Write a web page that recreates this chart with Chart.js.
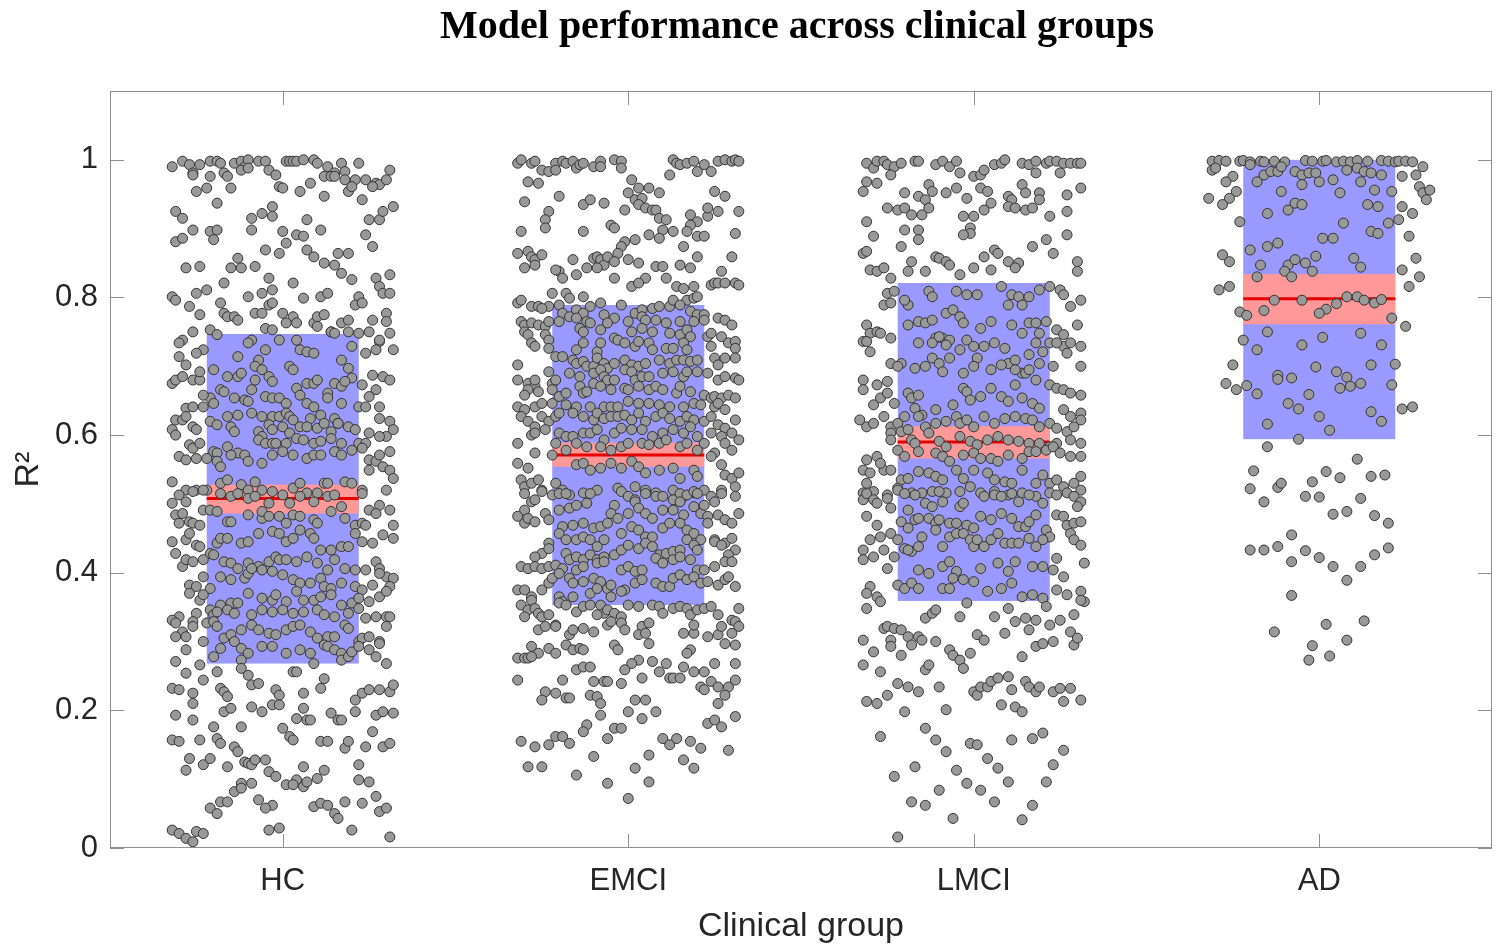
<!DOCTYPE html>
<html>
<head>
<meta charset="utf-8">
<title>Model performance across clinical groups</title>
<script src="https://cdn.jsdelivr.net/npm/chart.js@4.4.1/dist/chart.umd.min.js"></script>
<style>
  html, body { margin: 0; padding: 0; background: #fff; }
  #wrap { width: 1500px; height: 950px; }
</style>
</head>
<body>
<div id="wrap"><canvas id="groupChart" width="1500" height="950"></canvas></div>
<script>
const groups = ["HC", "EMCI", "LMCI", "AD"];
const yTicks = [0, 0.2, 0.4, 0.6, 0.8, 1];

// box = 1 SD band, sem = red band, mean = red line
const boxLow = [0.268, 0.353, 0.359, 0.594];
const boxHigh = [0.747, 0.789, 0.821, 1.0];
const semLow = [0.486, 0.554, 0.566, 0.761];
const semHigh = [0.528, 0.589, 0.613, 0.834];
const meanR2 = [0.508, 0.571, 0.590, 0.798];

// each point: [jitter from group centre, R2]
const hcPoints = [
[-.32,.990],[-.29,.998],[-.27,.993],[-.26,.981],[-.24,.993],[-.21,.998],[-.19,.998],[-.18,.995],[-.14,.995],[-.12,.998],[-.11,.990],[-.10,1.0],[-.07,.998],[-.05,.998],[.01,.998],[.02,.998],[.03,.998],[.04,.998],[.06,1.0],[.09,1.0],[.10,.995],[.13,.990],[.15,.981],[.17,.995],[.18,.983],[.22,.995],
[-.26,.978],[-.21,.976],[-.17,.981],[-.16,.976],[-.12,.985],[-.10,.988],[-.04,.985],[-.02,.978],[.12,.976],[.14,.976],[.15,.976],[.18,.971],[.21,.971],[.24,.971],[.27,.966],[.28,.964],[.30,.971],[.31,.985],[-.25,.954],[-.22,.959],[-.15,.959],[-.01,.961],[.00,.959],[.05,.954],[.08,.966],[.12,.947],[.19,.954],[.20,.961],[.23,.942],[.26,.961],
[-.19,.937],[-.31,.925],[-.29,.915],[-.09,.915],[-.06,.922],[-.03,.918],[-.03,.932],[.07,.913],[.25,.913],[.28,.913],[.29,.925],[.32,.932],[-.26,.898],[-.21,.896],[-.19,.898],[-.20,.884],[-.31,.881],[-.29,.886],[-.09,.898],[.00,.896],[.01,.879],[.04,.891],[.06,.889],[.11,.898],[.24,.891],[.26,.874],
[-.05,.869],[-.01,.864],[.07,.869],[.09,.859],[.12,.850],[.15,.847],[.16,.864],[.19,.864],[.17,.835],[.20,.826],[-.13,.857],[-.15,.843],[-.12,.843],[-.08,.845],[-.28,.843],[-.24,.845],[-.04,.828],[.03,.821],[.27,.828],[.31,.833],[.28,.816],[.29,.806],[.31,.806],
[-.17,.821],[-.18,.792],[-.25,.806],[-.22,.811],[-.32,.801],[-.31,.796],[-.06,.806],[-.03,.811],[-.04,.789],[-.10,.801],[.06,.799],[.11,.801],[.13,.806],[.22,.801],[.21,.789],[.23,.792],[-.27,.787],[-.24,.775],[-.17,.777],[-.16,.772],[-.14,.772],[-.13,.767],[-.08,.777],[-.06,.777],[-.03,.792],[.00,.777],[.03,.772],[.01,.763],[.04,.763],[.09,.763],[.10,.772],[.12,.775],[.14,.750],[.17,.763],[.19,.767],[.26,.767],[.30,.777],[.30,.765],
[-.26,.750],[-.21,.753],[-.19,.746],[-.05,.755],[-.03,.753],[-.01,.738],[.04,.738],[.10,.758],[.14,.750],[.15,.748],[.19,.750],[.22,.748],[.25,.750],[.28,.736],[.31,.748],[-.29,.738],[-.30,.734],[-.23,.724],[-.09,.738],[-.10,.734],[-.05,.724],[.05,.724],[.07,.721],[.09,.719],[.17,.709],[.20,.729],[.28,.738],[.24,.719],[.27,.724],[.32,.724],
[-.30,.714],[-.25,.719],[-.28,.702],[-.32,.675],[-.31,.680],[-.29,.685],[-.26,.680],[-.24,.680],[-.24,.692],[-.20,.695],[-.13,.714],[-.07,.709],[-.08,.700],[-.06,.695],[.02,.700],[.03,.695],[.19,.697],[.20,.683],[.15,.675],[.17,.671],[.18,.678],[.23,.673],[.26,.687],[.29,.685],[.31,.680],[-.16,.685],[-.13,.685],[-.12,.690],[-.09,.666],[-.08,.680],[-.04,.685],[-.03,.678],[.07,.675],[.09,.675],[.10,.680],
[-.18,.666],[-.17,.663],[-.21,.654],[-.23,.658],[-.20,.646],[-.14,.654],[-.11,.651],[-.10,.649],[-.05,.656],[-.03,.654],[-.01,.654],[.01,.646],[.04,.668],[.05,.658],[.07,.646],[.09,.641],[.13,.661],[.13,.654],[.17,.646],[.22,.641],[.24,.641],[.27,.666],[.25,.656],[.28,.641],[-.28,.639],[-.26,.641],[-.23,.641],[-.31,.622],[-.29,.622],[-.28,.627],[-.16,.627],[-.13,.629],[-.09,.632],[-.06,.627],[-.03,.627],[-.01,.627],[.01,.632],[.02,.627],[.03,.622],[.05,.612],[.08,.624],[.11,.629],[.15,.624],[.16,.617],
[-.32,.608],[-.31,.600],[-.26,.612],[-.25,.608],[-.21,.620],[-.19,.615],[-.15,.612],[-.14,.605],[-.07,.605],[-.06,.598],[-.04,.615],[-.03,.608],[.00,.612],[.02,.603],[.07,.612],[.10,.610],[.12,.617],[.14,.605],[.16,.617],[.19,.612],[.21,.608],[.28,.624],[.31,.620],[.32,.608],[.30,.598],[.28,.598],[.25,.603],[.22,.588],[.24,.588],[-.27,.586],[-.26,.581],[-.24,.588],[-.20,.576],[-.19,.574],[-.16,.583],[-.13,.574],[-.11,.571],[-.07,.593],[-.05,.588],[-.03,.588],[-.02,.588],[.01,.588],[.04,.595],[.06,.593],[.09,.588],[.11,.591],[.14,.595],[.17,.588],
[-.30,.569],[-.28,.564],[-.25,.566],[-.22,.566],[-.19,.562],[-.18,.554],[-.15,.571],[-.10,.562],[-.06,.559],[-.03,.571],[.00,.576],[.03,.571],[.07,.566],[.09,.571],[.11,.571],[.15,.576],[.17,.571],[.20,.578],[.23,.581],[.25,.564],[.27,.562],[.28,.571],[.31,.576],[-.32,.532],[-.28,.520],[-.25,.520],[-.22,.520],[-.18,.530],[-.16,.535],[-.12,.528],[-.10,.520],[-.08,.532],[-.06,.520],[-.03,.518],[.03,.523],[.05,.530],[.07,.516],[.10,.516],[.12,.530],[.13,.530],[.18,.532],[.20,.530],[.23,.520],[.25,.549],[.29,.554],[.31,.549],[.32,.537],
[-.32,.501],[-.30,.513],[-.28,.503],[-.26,.518],[-.23,.520],[-.18,.515],[-.15,.511],[-.13,.515],[-.10,.508],[-.08,.511],[-.04,.501],[.00,.513],[.02,.501],[.05,.511],[.09,.503],[.13,.511],[.15,.513],[.17,.496],[.23,.515],[.30,.520],
[-.31,.484],[-.29,.486],[-.30,.472],[-.27,.474],[-.26,.472],[-.24,.469],[-.23,.491],[-.21,.491],[-.19,.489],[-.16,.474],[-.15,.474],[-.10,.484],[-.06,.479],[-.06,.489],[-.04,.482],[-.01,.482],[.01,.472],[.03,.484],[.05,.482],[.09,.477],[.10,.472],[.14,.489],[.18,.479],[.21,.469],[.23,.472],[.25,.491],[.28,.498],[.27,.486],[.31,.491],[.32,.469],
[-.32,.445],[-.31,.428],[-.28,.448],[-.27,.457],[-.25,.440],[-.24,.438],[-.21,.428],[-.19,.443],[-.18,.450],[-.16,.450],[-.12,.443],[-.10,.445],[-.07,.457],[-.03,.460],[-.01,.457],[.01,.445],[.03,.450],[.05,.462],[.08,.457],[.09,.450],[.11,.433],[.14,.433],[.17,.438],[.19,.438],[.21,.457],[.23,.445],[.24,.469],[.26,.443],[.29,.455],[.32,.450],
[-.29,.409],[-.28,.419],[-.26,.416],[-.23,.419],[-.20,.426],[-.17,.416],[-.15,.414],[-.13,.406],[-.10,.414],[-.07,.409],[-.04,.416],[-.02,.423],[-.01,.419],[.01,.419],[.04,.416],[.07,.423],[.10,.414],[.13,.404],[.15,.419],[.18,.406],[.21,.404],[.24,.404],[.27,.416],[.28,.406],[.30,.394],[.32,.392],[-.27,.382],[-.25,.380],[-.23,.394],[-.21,.377],[-.18,.394],[-.15,.390],[-.11,.392],[-.10,.399],[-.09,.406],[-.06,.404],[-.03,.402],[.00,.397],[.03,.390],[.05,.385],[.08,.385],[.11,.392],[.12,.380],[.14,.377],[.17,.385],[.21,.380],[.23,.375],[.26,.382],[.28,.399],[.31,.380],
[-.27,.370],[-.24,.360],[-.23,.368],[-.18,.353],[-.15,.356],[-.13,.356],[-.10,.370],[-.06,.363],[-.03,.360],[-.02,.368],[.01,.358],[.04,.373],[.06,.360],[.09,.360],[.11,.365],[.14,.368],[.17,.353],[.20,.356],[.22,.363],[.25,.358],[.28,.365],[.30,.373],[-.25,.341],[-.30,.336],[-.26,.329],[-.21,.346],[-.20,.339],[-.19,.343],[-.16,.346],[-.14,.341],[-.09,.339],[-.06,.346],[-.03,.343],[.00,.346],[.03,.341],[.06,.343],[.10,.346],[.12,.339],[.15,.336],[.19,.341],[.22,.348],[.24,.334],[.27,.336],[.30,.336],
[-.32,.331],[-.31,.327],[-.29,.314],[-.31,.307],[-.28,.307],[-.26,.322],[-.22,.327],[-.20,.329],[-.19,.322],[-.17,.305],[-.15,.310],[-.12,.317],[-.09,.324],[-.07,.317],[-.04,.312],[-.02,.310],[.01,.317],[.03,.322],[.05,.324],[.08,.314],[.10,.305],[.13,.307],[.15,.307],[.18,.324],[.19,.319],[.22,.300],[.23,.305],[.25,.307],[.28,.300],[.28,.297],[.30,.322],[.31,.336],
[-.31,.271],[-.28,.288],[-.23,.300],[-.20,.278],[-.18,.290],[-.14,.300],[-.12,.290],[-.10,.283],[-.06,.293],[-.03,.293],[.01,.283],[.05,.288],[.08,.283],[.12,.295],[.13,.293],[.15,.288],[.17,.283],[.17,.273],[.19,.278],[.20,.285],[.22,.293],[.25,.288],[.27,.278],[.30,.268],
[-.24,.266],[-.28,.254],[-.23,.244],[-.19,.256],[-.12,.273],[-.12,.261],[-.10,.251],[-.09,.237],[-.07,.239],[-.02,.230],[-.01,.222],[.03,.256],[.04,.256],[.06,.225],[.09,.268],[.11,.232],[.12,.246],[-.32,.232],[-.30,.230],[-.26,.225],[-.18,.232],[-.17,.227],[-.16,.220],[.21,.215],[.23,.225],[.25,.230],[.28,.230],[.31,.227],[.32,.237],
[-.26,.210],[-.09,.205],[-.06,.198],[-.03,.208],[-.01,.208],[.06,.203],[.04,.188],[.07,.186],[.08,.186],[.14,.196],[.16,.186],[.17,.186],[.21,.198],[.27,.193],[.29,.198],[.32,.196],[-.31,.193],[-.26,.186],[-.17,.198],[-.15,.203],[-.20,.176],[-.12,.176],
[-.32,.157],[-.30,.155],[-.24,.157],[-.19,.159],[-.18,.152],[-.14,.147],[-.13,.140],[-.11,.125],[.00,.174],[.02,.162],[.03,.157],[.11,.155],[.13,.155],[.18,.145],[.19,.155],[.24,.147],[.26,.169],[.29,.147],[.31,.152],[-.27,.130],[-.23,.121],[-.21,.130],[-.16,.118],[-.10,.123],[-.09,.121],[-.08,.128],[-.05,.128],[.06,.118],[.12,.113],[.22,.121],
[-.28,.113],[-.04,.111],[-.02,.104],[.04,.099],[.01,.092],[.03,.092],[.06,.089],[.07,.096],[.10,.101],[-.12,.094],[-.09,.094],[-.14,.082],[-.12,.087],[.25,.096],[.22,.099],[-.18,.067],[-.16,.067],[-.07,.070],[-.03,.062],[.09,.060],[.11,.065],[.13,.062],[.15,.050],[.16,.043],[.18,.067],[.23,.065],[.27,.075],[.28,.053],[.30,.058],[-.21,.058],[-.19,.050],[-.05,.058],
[-.32,.026],[-.30,.021],[-.28,.014],[-.26,.009],[-.25,.024],[-.23,.021],[-.04,.026],[-.01,.029],[.20,.026],[.31,.016]
];

const emciPoints = [
[-.32,.995],[-.31,1.0],[-.28,.995],[-.27,.998],[-.25,.985],[-.23,.983],[-.21,.995],[-.21,.985],[-.19,.998],[-.18,.995],[-.16,.998],[-.15,.988],[-.14,.993],[-.13,.995],[-.10,.990],[-.08,.998],[-.08,.990],[-.04,1.0],[-.02,.998],[-.02,.988],[.13,1.0],[.14,.995],[.15,.993],[.17,.995],[.19,.998],[.20,.983],[.22,.993],[.24,.983],[.26,.998],[.28,1.0],[.30,.998],[.31,1.0],[.32,.998],[.12,.978],
[-.29,.968],[-.26,.966],[-.20,.947],[-.13,.935],[-.11,.942],[-.07,.937],[.01,.971],[.00,.952],[.03,.959],[.06,.959],[.09,.952],[.02,.942],[.04,.944],[.03,.935],[.05,.930],[.07,.927],[.08,.927],[.25,.954],[.28,.947],[-.30,.939],[-.23,.925],[-.24,.913],[-.24,.901],[-.31,.896],[-.13,.896],[-.05,.905],[-.04,.901],[-.01,.927],[.09,.915],[.11,.913],[.10,.898],[.13,.896],[.06,.891],[.09,.886],[.18,.920],[.20,.910],[.23,.918],[.23,.930],[.26,.925],[.32,.925],[.18,.905],[.17,.896],[.20,.889],[.22,.889],[.31,.893],
[-.01,.881],[.02,.884],[-.02,.874],[-.03,.864],[.16,.874],[.20,.859],[.30,.859],[-.32,.864],[-.29,.867],[-.28,.859],[-.27,.855],[-.25,.862],[-.27,.847],[-.30,.843],[-.16,.855],[-.10,.857],[-.09,.859],[-.08,.855],[-.07,.847],[-.06,.859],[-.04,.852],[.00,.855],[.03,.850],[-.09,.843],[-.12,.843],[-.15,.833],[-.20,.838],[-.21,.840],[-.19,.828],[-.04,.828],[.08,.845],[.10,.845],[.15,.847],[.18,.843],[.11,.828],[.05,.828],[.01,.816],[.03,.821],[.14,.816],[.16,.813],[.19,.816],[.24,.818],[.25,.821],[.26,.821],[.28,.821],[.31,.821],[.32,.818],[.27,.838],
[-.32,.792],[-.31,.796],[-.22,.806],[-.18,.806],[-.17,.799],[-.13,.801],[-.23,.787],[-.28,.787],[-.26,.787],[-.25,.784],[-.20,.789],[-.19,.777],[-.15,.782],[-.13,.777],[-.11,.787],[-.08,.792],[-.02,.789],[.02,.777],[.04,.782],[.07,.784],[.09,.787],[.12,.787],[.13,.796],[.17,.796],[.15,.789],[.19,.799],[.20,.801],[.18,.780],[.20,.775],[.22,.775],[.19,.765],[.22,.767],[-.31,.765],[-.30,.760],[-.28,.763],[-.26,.760],[-.24,.758],[-.23,.765],[-.20,.765],[-.17,.772],[-.15,.770],[-.12,.765],[-.11,.763],[-.07,.775],[-.04,.770],[.00,.765],[.04,.772],[.05,.767],[.08,.767],[.11,.763],[.15,.765],[.26,.770],[.28,.767],[.30,.760],
[-.30,.750],[-.29,.746],[-.28,.734],[-.24,.746],[-.23,.738],[-.27,.729],[-.14,.755],[-.13,.750],[-.08,.753],[-.06,.763],[-.04,.741],[.01,.750],[.07,.750],[.04,.755],[.12,.748],[.15,.746],[.17,.753],[.18,.743],[.23,.743],[.24,.748],[.27,.743],[.29,.734],[.31,.736],[.31,.726],[-.23,.726],[-.21,.714],[-.15,.724],[-.13,.734],[-.09,.721],[-.08,.734],[-.03,.738],[-.01,.734],[.02,.729],[.03,.736],[.06,.734],[.07,.724],[.11,.726],[.13,.726],[.16,.734],[.17,.724],[.24,.729],[.25,.712],[.26,.702],[.28,.712],[.31,.712],[-.32,.702],[-.19,.714],[-.16,.709],[-.15,.704],[-.13,.707],[-.12,.700],[-.10,.700],[-.09,.712],[-.07,.704],[-.06,.697],[-.04,.704],[-.01,.709],[.01,.702],[.03,.700],[.05,.704],[.09,.709],[.12,.704],[.14,.709],[.16,.709],[.18,.707],[.20,.709],
[-.32,.680],[-.29,.675],[-.27,.671],[-.26,.663],[-.29,.666],[-.30,.658],[-.27,.680],[-.23,.692],[-.22,.675],[-.21,.680],[-.17,.690],[-.14,.685],[-.10,.690],[-.08,.695],[-.07,.685],[-.06,.680],[-.04,.680],[-.01,.695],[.01,.692],[.02,.680],[.04,.685],[.06,.685],[.10,.690],[.13,.692],[.16,.685],[.17,.692],[.20,.692],[.23,.690],[.26,.680],[.28,.685],[.31,.683],[.32,.680],[-.22,.666],[-.20,.656],[-.18,.661],[-.14,.671],[-.13,.661],[-.12,.663],[-.10,.675],[-.08,.671],[-.05,.666],[-.01,.668],[.00,.666],[.03,.671],[.06,.666],[.08,.671],[.10,.666],[.14,.661],[.15,.671],[.18,.663],[.22,.658],[.24,.654],[.25,.656],[.27,.654],[.29,.658],[.31,.654],[-.32,.641],[-.30,.637],[-.27,.641],[-.25,.646],[-.22,.646],[-.18,.644],[-.15,.641],[-.11,.641],[-.07,.641],[-.05,.641],[-.03,.641],[.00,.649],[.03,.646],[.06,.646],[.09,.644],[.12,.641],[.16,.641],[.19,.646],[.21,.644],[.25,.641],[.26,.646],[.28,.637],
[-.31,.627],[-.29,.620],[-.27,.612],[-.25,.627],[-.23,.620],[-.21,.627],[-.20,.632],[-.16,.632],[-.13,.627],[-.10,.622],[-.09,.632],[-.07,.624],[-.05,.627],[-.03,.627],[-.01,.629],[.01,.622],[.03,.632],[.05,.620],[.08,.627],[.10,.632],[.12,.624],[.15,.620],[.17,.627],[.19,.622],[.22,.620],[.24,.627],[.26,.615],[.28,.610],[.31,.622],[-.32,.588],[-.28,.600],[-.27,.603],[-.24,.608],[-.20,.603],[-.18,.598],[-.16,.598],[-.13,.603],[-.11,.603],[-.09,.608],[-.07,.593],[-.04,.603],[-.02,.610],[.01,.608],[.04,.608],[.07,.598],[.10,.603],[.13,.608],[.16,.603],[.18,.612],[.20,.598],[.24,.603],[.27,.598],[.30,.603],[.32,.593],
[-.27,.574],[-.22,.571],[-.21,.588],[-.18,.578],[-.15,.588],[-.12,.583],[-.08,.583],[-.05,.578],[-.02,.583],[.00,.588],[.04,.588],[.06,.586],[.09,.588],[.11,.593],[.15,.583],[.17,.588],[.20,.578],[.22,.588],[.25,.574],[.28,.588],[.30,.578],[-.32,.559],[-.29,.552],[-.31,.535],[-.30,.525],[-.28,.530],[-.26,.535],[-.25,.520],[-.21,.530],[-.19,.520],[-.15,.557],[-.13,.559],[-.11,.549],[-.08,.552],[-.05,.559],[-.02,.552],[.01,.562],[.03,.554],[.05,.545],[.09,.549],[.13,.552],[.15,.537],[.19,.549],[.20,.540],[.24,.569],[.27,.557],[.28,.542],[.30,.537],[.32,.545],[-.22,.513],[-.17,.513],[-.13,.516],[-.09,.520],[-.03,.523],[.02,.525],[.05,.520],[.08,.516],[.13,.520],[.16,.511],[.19,.516],[.22,.520],[.27,.520],[.31,.525],
[-.30,.515],[-.28,.503],[-.27,.506],[-.25,.518],[-.20,.515],[-.18,.515],[-.11,.515],[-.02,.518],[.00,.511],[.02,.506],[.05,.515],[.08,.511],[.10,.511],[.13,.506],[.15,.515],[.17,.513],[.19,.518],[.20,.515],[.24,.511],[.27,.515],[.31,.511],
[-.30,.491],[-.32,.482],[-.30,.472],[-.29,.479],[-.27,.474],[-.24,.486],[-.20,.491],[-.17,.494],[-.15,.498],[-.12,.501],[-.04,.498],[-.05,.486],[-.03,.479],[.00,.486],[.02,.503],[.03,.494],[.05,.486],[.07,.479],[.10,.491],[.13,.491],[.15,.503],[.16,.484],[.19,.496],[.21,.486],[.22,.498],[.25,.503],[.23,.482],[.26,.484],[.28,.477],[.30,.472],[.32,.486],
[-.23,.477],[-.19,.467],[-.16,.469],[-.13,.472],[-.10,.465],[-.08,.467],[-.06,.472],[-.02,.457],[.01,.467],[.03,.462],[.05,.452],[.07,.452],[.10,.465],[.12,.472],[.15,.472],[.17,.462],[.19,.457],[.21,.448],[.23,.472],[.25,.448],[.28,.443],[.30,.450],[.31,.433],[-.20,.457],[-.18,.448],[-.15,.448],[-.13,.452],[-.11,.448],[-.09,.438],[-.07,.448],[-.23,.443],[-.25,.428],[-.27,.423],[-.23,.435],[-.18,.428],[-.17,.419],[-.15,.423],[-.13,.419],[-.11,.426],[-.09,.419],[-.07,.423],[-.04,.426],[-.02,.433],[.00,.440],[.03,.435],[.05,.443],[.07,.438],[.09,.426],[.11,.428],[.13,.431],[.15,.433],[.17,.448],[.19,.440],[.20,.433],[.25,.445],[.27,.440],[.29,.426],
[-.31,.409],[-.29,.406],[-.27,.409],[-.25,.406],[-.23,.409],[-.21,.411],[-.19,.406],[-.15,.404],[-.13,.409],[-.09,.414],[-.07,.416],[-.02,.404],[.00,.409],[.02,.402],[.04,.404],[.08,.421],[.10,.414],[.13,.419],[.15,.423],[.18,.419],[.20,.404],[.22,.404],[.25,.409],[.28,.416],[.30,.416],[-.32,.375],[-.30,.375],[-.28,.365],[-.25,.375],[-.23,.385],[-.22,.392],[-.20,.399],[-.17,.392],[-.16,.385],[-.13,.387],[-.10,.392],[-.08,.387],[-.06,.377],[-.05,.382],[-.01,.375],[.02,.385],[.04,.390],[.08,.385],[.10,.380],[.12,.380],[.13,.392],[.15,.397],[.17,.390],[.19,.394],[.21,.385],[.23,.387],[.26,.382],[.28,.390],[.29,.394],[.31,.380],[-.28,.360],[-.20,.365],[-.19,.358],[-.16,.365],[-.11,.370],[-.09,.377],[-.05,.365],[-.02,.373],
[-.31,.353],[-.29,.346],[-.27,.348],[-.26,.341],[-.25,.336],[-.23,.339],[-.21,.324],[-.20,.356],[-.18,.353],[-.15,.343],[-.13,.351],[-.11,.353],[-.08,.353],[-.07,.341],[-.09,.339],[-.06,.346],[-.04,.341],[-.02,.336],[.00,.353],[.03,.351],[.07,.353],[.09,.351],[.10,.341],[.13,.348],[.15,.351],[.17,.348],[.18,.339],[.20,.346],[.22,.348],[.24,.351],[.26,.339],[.30,.331],[.32,.348],[-.30,.336],
[-.26,.317],[-.24,.322],[-.21,.322],[-.17,.310],[-.16,.317],[-.13,.319],[-.10,.314],[-.06,.324],[-.05,.329],[-.02,.327],[-.01,.317],[.04,.322],[.06,.327],[.03,.310],[.05,.312],[.06,.297],[.16,.312],[.19,.312],[.19,.324],[.23,.307],[.26,.310],[.28,.297],[.27,.322],[.31,.329],[.32,.322],[-.28,.293],[-.26,.283],[-.23,.290],[-.21,.283],[-.18,.295],[-.16,.288],[-.14,.290],[-.13,.288],[-.04,.295],[-.03,.288],[.18,.288],[.17,.283],[.30,.312],[.31,.295],
[-.32,.276],[-.30,.276],[-.29,.276],[-.28,.278],[.03,.273],[.01,.268],[-.01,.259],[-.02,.239],[.07,.271],[.11,.268],[.09,.256],[.12,.247],[.13,.247],[.15,.247],[.16,.263],[.19,.256],[.22,.256],[.25,.268],[.31,.268],[-.15,.259],[-.13,.263],[-.11,.263],[-.32,.244],[-.19,.244],[-.10,.242],[-.07,.242],[-.06,.242],[.04,.247],[.21,.234],[.22,.230],[.24,.242],[.26,.234],[.29,.234],[.31,.244],[.28,.222],
[-.24,.227],[-.21,.225],[-.25,.215],[-.18,.218],[-.17,.218],[-.11,.222],[-.09,.220],[-.08,.210],[.02,.215],[.05,.215],[.26,.210],[-.08,.193],[.00,.198],[.04,.188],[.08,.198],[.23,.181],[.25,.186],[.27,.176],[.31,.191],[-.12,.179],[-.13,.169],[-.04,.174],[-.02,.174],[-.06,.159],[-.21,.162],[-.19,.162],[-.17,.152],[-.31,.155],[-.27,.147],[-.23,.150],[.10,.159],[.12,.150],[.14,.159],[.18,.155],[.21,.145],[.29,.142],
[-.10,.133],[.06,.135],[.16,.128],[-.29,.118],[-.25,.118],[-.15,.106],[.02,.116],[.19,.116],[-.06,.094],[.06,.096],[.00,.072]
];

const lmciPoints = [
[-.31,.995],[-.29,.988],[-.28,.998],[-.26,.998],[-.25,.993],[-.23,.990],[-.21,.995],[-.17,.998],[-.16,.998],[-.11,.993],[-.09,.998],[-.07,.990],[-.05,.998],[-.04,.981],[.00,.976],[.02,.978],[.03,.985],[.06,.993],[.08,.995],[.09,1.0],[.14,.995],[.16,.993],[.18,.998],[.21,.995],[.22,.998],[.24,.998],[.26,.995],[.28,.995],[.30,.995],[.31,.995],[.18,.981],[.25,.981],
[-.31,.968],[-.32,.954],[-.28,.966],[-.24,.978],[-.20,.952],[-.16,.947],[-.14,.942],[-.13,.964],[-.12,.954],[-.08,.952],[-.05,.959],[-.02,.944],[.02,.959],[.04,.954],[.05,.937],[.10,.947],[.11,.942],[.14,.964],[.15,.952],[.19,.952],[.19,.942],[.27,.949],[.31,.959],[-.25,.930],[-.22,.927],[-.20,.930],[-.18,.920],[-.15,.920],[-.13,.930],[-.31,.910],[-.29,.889],[-.20,.898],[-.16,.898],[-.16,.884],[-.21,.874],[-.03,.918],[.00,.918],[.03,.927],[.10,.932],[.12,.930],[.15,.927],[.17,.930],[.22,.918],[.27,.925],[-.01,.901],[-.01,.893],[-.03,.891],[.21,.884],[.17,.874],[.27,.891],
[-.32,.864],[-.31,.867],[-.18,.852],[-.11,.859],[-.10,.857],[-.08,.852],[-.07,.847],[.03,.859],[.06,.869],[.07,.864],[.10,.852],[.13,.850],[.23,.864],[.30,.852],[-.30,.840],[-.28,.838],[-.26,.843],[-.24,.828],[-.19,.838],[-.14,.838],[-.04,.833],[.00,.843],[.05,.840],[.12,.843],[.30,.838],
[-.25,.806],[-.23,.809],[-.26,.789],[-.24,.792],[-.19,.789],[-.20,.796],[-.13,.809],[-.12,.801],[-.05,.809],[-.02,.804],[.01,.804],[.08,.816],[.11,.804],[.10,.789],[.13,.801],[.16,.801],[.14,.789],[.19,.811],[.22,.816],[.25,.811],[.26,.804],[.28,.787],[.31,.796],[-.31,.760],[-.30,.748],[-.28,.750],[-.27,.748],[-.24,.741],[-.19,.760],[-.16,.765],[-.14,.763],[-.12,.767],[-.08,.777],[-.06,.782],[-.04,.772],[-.03,.763],[-.09,.741],[-.11,.741],[-.07,.738],[-.02,.738],[.02,.755],[.05,.765],[.06,.734],[.11,.760],[.14,.748],[.16,.763],[.18,.763],[.21,.765],[.19,.748],[.24,.753],[.26,.746],[.30,.760],[.26,.729],[.28,.734],[.31,.729],
[-.32,.736],[-.31,.736],[-.30,.721],[-.24,.704],[-.21,.704],[-.16,.734],[-.12,.734],[-.10,.743],[-.08,.731],[-.04,.724],[.00,.729],[.03,.729],[.09,.726],[.10,.704],[.12,.709],[.14,.690],[.16,.717],[.18,.734],[.20,.721],[.22,.734],[.24,.734],[.27,.719],[.23,.700],[.19,.704],[.31,.700],[-.32,.680],[-.32,.666],[-.28,.673],[-.25,.678],[-.22,.700],[-.17,.697],[-.14,.700],[-.12,.712],[-.10,.704],[-.07,.712],[-.09,.692],[-.03,.690],[.01,.712],[.00,.700],[.05,.695],[.08,.702],[.12,.695],[.15,.690],[.12,.673],[.16,.695],[.18,.680],[.22,.673],[.24,.668],[.26,.666],[.28,.661],[.31,.658],
[-.29,.644],[-.27,.654],[-.25,.661],[-.23,.646],[-.19,.661],[-.18,.654],[-.17,.639],[-.16,.658],[-.15,.629],[-.11,.637],[-.06,.644],[-.03,.668],[-.02,.663],[.02,.656],[-.01,.651],[.05,.668],[.08,.656],[.10,.649],[.14,.654],[.17,.646],[.19,.639],[.26,.637],[.28,.627],[.31,.632],[-.33,.622],[-.31,.612],[-.29,.617],[-.26,.627],[-.24,.612],[-.22,.617],[-.20,.627],[-.16,.627],[-.14,.612],[-.11,.617],[-.08,.620],[-.05,.627],[-.04,.617],[-.02,.622],[.00,.612],[.03,.627],[.06,.617],[.09,.624],[.12,.627],[.15,.624],[.17,.622],[.19,.612],[.22,.617],[.24,.610],[.27,.605],[.29,.612],[.31,.622],
[-.24,.603],[-.24,.593],[-.21,.605],[-.19,.608],[-.18,.593],[-.13,.603],[-.10,.591],[-.08,.583],[-.04,.598],[-.01,.591],[.01,.586],[.04,.593],[.07,.598],[.10,.593],[.13,.591],[.16,.588],[.19,.588],[.22,.583],[.24,.588],[.28,.593],[.31,.588],[-.31,.564],[-.28,.569],[-.26,.549],[-.27,.559],[-.22,.578],[-.20,.569],[-.17,.588],[-.16,.576],[-.11,.574],[-.09,.569],[-.07,.562],[-.03,.571],[.00,.574],[.02,.566],[.05,.566],[.07,.562],[.10,.571],[.14,.566],[.16,.576],[.18,.576],[.21,.578],[.23,.583],[.25,.574],[.28,.569],[.31,.569],
[-.32,.549],[-.30,.545],[-.31,.530],[-.24,.549],[-.21,.535],[-.19,.537],[-.16,.547],[-.13,.545],[-.11,.540],[-.09,.535],[-.05,.549],[-.03,.537],[.00,.549],[.04,.545],[.06,.535],[.09,.532],[.11,.530],[.14,.549],[.18,.530],[.20,.542],[.22,.530],[.24,.535],[.26,.525],[.29,.530],[.31,.540],[-.32,.516],[-.29,.518],[-.25,.513],[-.22,.523],[-.18,.516],[-.15,.516],[-.12,.518],[-.08,.516],[-.04,.518],[-.01,.525],[.02,.516],[.06,.518],[.10,.513],[.14,.516],[.18,.511],[.22,.516],[.27,.516],[.31,.520],
[-.32,.506],[-.31,.515],[-.29,.506],[-.28,.501],[-.25,.508],[-.24,.494],[-.22,.520],[-.20,.515],[-.19,.491],[-.17,.513],[-.14,.501],[-.12,.496],[-.10,.518],[-.09,.503],[-.04,.496],[-.03,.501],[.03,.511],[.06,.513],[.08,.511],[.11,.515],[.13,.503],[.16,.513],[.20,.501],[.24,.513],[.29,.511],[.31,.503],[.30,.496],
[-.31,.482],[-.28,.469],[-.27,.452],[-.24,.457],[-.22,.448],[-.21,.474],[-.19,.465],[-.17,.477],[-.16,.479],[-.13,.479],[-.11,.472],[-.10,.477],[-.07,.472],[-.05,.472],[-.02,.469],[.00,.465],[.02,.482],[.05,.477],[.08,.486],[.11,.479],[.13,.467],[.15,.467],[.16,.474],[.18,.484],[.21,.462],[.22,.452],[.24,.484],[.26,.482],[.27,.469],[.29,.472],[.31,.474],
[-.32,.433],[-.30,.448],[-.26,.433],[-.23,.423],[-.20,.435],[-.18,.431],[-.16,.438],[-.15,.452],[-.11,.462],[-.09,.438],[-.07,.452],[-.05,.457],[-.03,.457],[-.01,.448],[.00,.438],[.01,.448],[.03,.438],[.05,.448],[.07,.457],[.09,.443],[.11,.443],[.13,.443],[.16,.450],[.18,.438],[.20,.448],[.24,.421],[.28,.457],[.29,.448],[.31,.440],[-.32,.419],[-.29,.423],[-.25,.406],[-.19,.433],[-.16,.404],[-.13,.399],[-.09,.409],[-.07,.416],[-.05,.402],[.00,.387],[.02,.406],[.07,.414],[.10,.402],[.12,.416],[.17,.409],[.20,.409],[.23,.404],[.26,.394],[.32,.414],
[-.30,.380],[-.31,.370],[-.28,.365],[-.27,.358],[-.22,.382],[-.20,.377],[-.18,.385],[-.16,.377],[-.09,.377],[-.07,.377],[-.06,.392],[-.03,.390],[.04,.373],[.08,.377],[.11,.385],[.14,.365],[.17,.368],[.20,.363],[.24,.375],[.27,.368],[.31,.373],[.32,.358],[-.31,.348],[-.14,.334],[-.12,.341],[-.11,.346],[-.02,.356],[-.04,.336],[.06,.336],[.10,.348],[.12,.329],[.15,.334],[.18,.331],[.21,.351],[.22,.324],[.25,.331],[.29,.339],[.31,.360],
[-.26,.319],[-.25,.322],[-.23,.319],[-.21,.317],[-.19,.307],[-.16,.307],[-.15,.302],[-.24,.302],[-.24,.293],[-.18,.295],[-.32,.302],[-.29,.285],[-.11,.300],[-.07,.288],[-.06,.280],[-.04,.273],[-.03,.261],[-.01,.283],[.01,.310],[.03,.302],[.09,.312],[.14,.278],[.16,.317],[.18,.293],[.20,.297],[.23,.300],[.28,.314],[.29,.295],[.30,.305],
[-.32,.266],[-.27,.256],[-.21,.280],[-.14,.259],[-.13,.266],[-.22,.239],[-.19,.234],[-.16,.227],[-.10,.234],[.00,.227],[.01,.222],[.02,.234],[.04,.234],[.05,.242],[.07,.247],[.10,.249],[.11,.230],[.15,.242],[.16,.234],[.18,.227],[.19,.234],[.23,.227],[.25,.232],[.28,.232],[.31,.215],[-.31,.213],[-.28,.210],[-.25,.222],[-.20,.198],[-.08,.201],[.08,.208],[.12,.205],[.14,.198],[.26,.213],
[-.27,.162],[-.14,.174],[-.11,.157],[-.08,.140],[-.01,.152],[.01,.150],[.04,.130],[.11,.157],[.17,.159],[.20,.167],[.26,.142],[.23,.121],[-.17,.118],[-.23,.104],[-.05,.113],[.07,.116],[-.02,.094],[.02,.084],[.10,.096],[.21,.096],[-.10,.084],[-.18,.067],[-.14,.062],[.06,.067],[.17,.062],[-.06,.043],[.14,.041],[-.22,.016]
];

const adPoints = [
[-.31,.998],[-.29,.999],[-.27,.998],[-.23,.998],[-.22,.999],[-.20,.997],[-.17,.998],[-.16,.997],[-.13,.998],[-.10,.997],[-.04,.999],[-.02,.998],[.01,.998],[.02,.999],[.05,.997],[.07,.998],[.09,.997],[.11,.999],[.14,.998],[.18,.999],[.20,.998],[.22,.997],[.23,.998],[.25,.998],[.27,.997],
[-.31,.985],[-.30,.988],[-.25,.976],[-.20,.993],[-.18,.968],[-.16,.978],[-.14,.983],[-.12,.983],[-.11,.990],[-.07,.983],[-.05,.978],[-.03,.981],[-.01,.981],[.00,.968],[.04,.971],[.08,.985],[.11,.988],[.12,.968],[.13,.983],[.15,.981],[.18,.978],[.24,.976],[.28,.978],[.30,.990],
[-.27,.968],[-.24,.954],[-.26,.944],[-.32,.944],[-.28,.935],[-.11,.954],[-.05,.964],[.06,.952],[.16,.956],[.21,.954],[.29,.961],[.30,.952],[.32,.956],[.31,.942],[.24,.932],[.27,.922],[-.09,.927],[-.07,.937],[-.05,.935],[-.15,.922],[.14,.935],[.17,.932],[-.23,.910],[.07,.908],[.20,.908],[.23,.913],
[.01,.886],[.04,.886],[.15,.896],[.17,.893],[.26,.889],[-.15,.874],[-.12,.879],[-.20,.869],[-.28,.862],[-.26,.852],[-.01,.860],[.10,.857],[.28,.857],[-.17,.847],[-.09,.847],[-.07,.855],[-.04,.850],[-.10,.838],[-.02,.838],[-.08,.830],[-.18,.830],[.12,.844],[.24,.840],[.29,.830],
[-.29,.811],[-.26,.816],[.26,.816],[-.13,.796],[-.05,.796],[.08,.801],[.11,.801],[.13,.796],[.16,.792],[.18,.797],[.05,.791],[.02,.783],[.00,.777],[-.16,.781],[-.23,.779],[-.21,.774],[.21,.770],[.25,.758],
[-.15,.750],[-.22,.738],[-.18,.724],[-.05,.731],[.01,.742],[.12,.748],[.18,.731],[-.25,.702],[-.01,.699],[.15,.702],[.22,.703],[-.12,.687],[-.08,.683],[.05,.692],[.08,.684],[-.12,.681],[-.27,.675],[-.24,.666],[-.21,.672],[-.18,.660],[-.03,.659],[.06,.668],[.09,.671],[.12,.675],[.21,.673],[-.09,.646],[-.06,.638],[.24,.638],[.27,.641],[-.15,.616],[.00,.627],[.15,.634],[.18,.620],[.03,.607],[-.06,.594],
[-.15,.583],[.11,.565],[-.19,.548],[-.20,.522],[-.12,.524],[-.11,.530],[-.02,.532],[.02,.547],[.06,.538],[.15,.540],[.19,.542],[-.16,.503],[-.04,.511],[.00,.510],[.12,.508],[.04,.485],[.08,.489],[.16,.483],[.20,.472],[-.08,.455],[-.20,.433],[-.16,.433],[-.12,.438],[-.04,.432],[.00,.422],[-.08,.416],[.04,.409],[.12,.409],[.16,.426],[.20,.436],[.08,.389],[-.08,.367],[-.13,.314],[.02,.325],[.13,.330],[.08,.302],[-.02,.294],[-.03,.273],[.03,.279]
];

const groupPoints = [hcPoints, emciPoints, lmciPoints, adPoints];

const BOX_HALF = 0.22;
const AXIS_COLOR = '#8f8f8f';
const TEXT_COLOR = '#262626';
const SANS = '"Liberation Sans", Arial, sans-serif';

// boxes under the points
const bandsPlugin = {
  id: 'bands',
  beforeDatasetsDraw(chart) {
    const { ctx, scales: { x, y } } = chart;
    ctx.save();
    groups.forEach((g, i) => {
      const c = i + 1;
      const x0 = x.getPixelForValue(c - BOX_HALF);
      const x1 = x.getPixelForValue(c + BOX_HALF);
      const w = x1 - x0;
      let top = y.getPixelForValue(boxHigh[i]);
      ctx.fillStyle = '#9999ff';
      ctx.fillRect(x0, top, w, y.getPixelForValue(boxLow[i]) - top);
      top = y.getPixelForValue(semHigh[i]);
      ctx.fillStyle = '#ff9999';
      ctx.fillRect(x0, top, w, y.getPixelForValue(semLow[i]) - top);
      const ym = y.getPixelForValue(meanR2[i]);
      ctx.strokeStyle = '#e60000';
      ctx.lineWidth = 3;
      ctx.beginPath();
      ctx.moveTo(x0, ym);
      ctx.lineTo(x1, ym);
      ctx.stroke();
    });
    ctx.restore();
  }
};

// matlab style frame with inward ticks, plus the title
const framePlugin = {
  id: 'frame',
  afterDraw(chart) {
    const { ctx, chartArea: a, scales: { x, y } } = chart;
    const tl = 14;
    ctx.save();
    ctx.strokeStyle = AXIS_COLOR;
    ctx.lineWidth = 1;
    ctx.strokeRect(a.left + 0.5, a.top + 0.5, a.right - a.left - 1, a.bottom - a.top - 1);
    ctx.beginPath();
    y.ticks.forEach(t => {
      const py = Math.round(y.getPixelForValue(t.value)) + 0.5;
      ctx.moveTo(a.left, py); ctx.lineTo(a.left + tl, py);
      ctx.moveTo(a.right, py); ctx.lineTo(a.right - tl, py);
    });
    x.ticks.forEach(t => {
      const px = Math.round(x.getPixelForValue(t.value)) + 0.5;
      ctx.moveTo(px, a.bottom); ctx.lineTo(px, a.bottom - tl);
      ctx.moveTo(px, a.top); ctx.lineTo(px, a.top + tl);
    });
    ctx.stroke();

    ctx.fillStyle = '#000';
    ctx.font = 'bold 40px "Liberation Serif", "Times New Roman", serif';
    ctx.textAlign = 'center';
    ctx.textBaseline = 'alphabetic';
    ctx.fillText('Model performance across clinical groups', (a.left + a.right) / 2 - 4, 38);
    ctx.restore();
  }
};

const datasets = groupPoints.map((pts, i) => ({
  label: groups[i],
  data: pts.map(p => ({ x: i + 1 + p[0], y: p[1] })),
  pointRadius: 5,
  pointBorderWidth: 1,
  pointBackgroundColor: '#999999',
  pointBorderColor: '#333333',
  pointHoverRadius: 5
}));

new Chart(document.getElementById('groupChart'), {
  type: 'scatter',
  data: { datasets },
  plugins: [bandsPlugin, framePlugin],
  options: {
    responsive: false,
    devicePixelRatio: 1,
    animation: false,
    events: [],
    layout: { padding: { top: 91, right: 8, left: 0, bottom: 0 } },
    plugins: { legend: { display: false }, tooltip: { enabled: false } },
    scales: {
      x: {
        type: 'linear',
        min: 0.5,
        max: 4.5,
        grid: { display: false, drawTicks: false },
        border: { display: false },
        afterBuildTicks: s => { s.ticks = groups.map((g, i) => ({ value: i + 1 })); },
        afterFit: s => { s.height = 102; },
        ticks: {
          padding: 15,
          color: TEXT_COLOR,
          font: { family: SANS, size: 31 },
          callback: v => groups[v - 1] || ''
        },
        title: {
          display: true,
          text: 'Clinical group',
          color: TEXT_COLOR,
          font: { family: SANS, size: 34 },
          padding: { top: 0, bottom: 3 }
        }
      },
      y: {
        min: 0,
        max: 1.1,
        grid: { display: false, drawTicks: false },
        border: { display: false },
        afterBuildTicks: s => { s.ticks = yTicks.map(v => ({ value: v })); },
        afterFit: s => { s.width = 110; },
        ticks: {
          padding: 12,
          color: TEXT_COLOR,
          font: { family: SANS, size: 31 },
          callback: v => String(v)
        },
        title: {
          display: true,
          text: 'R²',
          color: TEXT_COLOR,
          font: { family: SANS, size: 34 },
          padding: { top: 8, bottom: 0 }
        }
      }
    }
  }
});
</script>
</body>
</html>
